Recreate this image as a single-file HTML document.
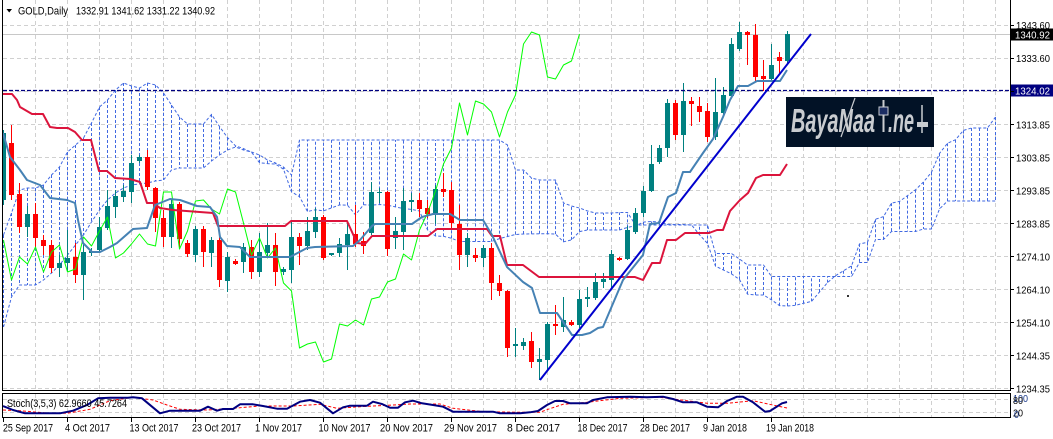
<!DOCTYPE html>
<html><head><meta charset="utf-8">
<style>
html,body{margin:0;padding:0;background:#fff;}
svg{display:block;}
text{font-family:"Liberation Sans",sans-serif;}
</style></head>
<body>
<svg id="c" width="1053" height="439" viewBox="0 0 1053 439" xmlns="http://www.w3.org/2000/svg">
<defs>
<clipPath id="mc"><rect x="3" y="0" width="1007" height="390"/></clipPath>
<clipPath id="sc"><rect x="3" y="394" width="1007" height="23"/></clipPath>
</defs>
<rect width="1053" height="439" fill="#fff"/>
<g id="grid"></g>
<g id="cloud" clip-path="url(#mc)"></g>
<line x1="3" y1="34.5" x2="1010" y2="34.5" stroke="#c8c8c8" stroke-width="1"/>
<g id="candles" clip-path="url(#mc)"></g>
<g id="ind" clip-path="url(#mc)"></g>
<line x1="3" y1="90.5" x2="1010" y2="90.5" stroke="#000080" stroke-width="1.3" stroke-dasharray="4,2"/>
<line x1="540" y1="380" x2="811" y2="34" stroke="#0000cd" stroke-width="2"/>
<rect x="847" y="295" width="2" height="2" fill="#333"/>
<g id="stoch" clip-path="url(#sc)"></g>

<!-- logo -->
<rect x="786" y="97" width="148" height="50" fill="#021226"/>
<text x="791" y="132" font-size="33" font-style="italic" font-weight="bold" fill="#c9ccd0" textLength="84" lengthAdjust="spacingAndGlyphs">BayaNaa</text>
<line x1="855" y1="98" x2="841" y2="137" stroke="#c9ccd0" stroke-width="1.2"/>
<line x1="883.5" y1="100" x2="883.5" y2="132" stroke="#c9ccd0" stroke-width="2"/>
<rect x="879" y="107" width="9" height="8" fill="#1b2d63" stroke="#c9ccd0" stroke-width="1"/>
<text x="888" y="132" font-size="33" font-style="italic" font-weight="bold" fill="#c9ccd0" textLength="26" lengthAdjust="spacingAndGlyphs">.ne</text>
<line x1="922" y1="105" x2="922" y2="133" stroke="#c9ccd0" stroke-width="1.5"/>
<rect x="917" y="122" width="11" height="5" fill="#c9ccd0"/>

<!-- borders -->
<line x1="2.5" y1="0" x2="2.5" y2="391" stroke="#000"/>
<line x1="2" y1="390.5" x2="1011" y2="390.5" stroke="#000"/>
<line x1="1010.5" y1="0" x2="1010.5" y2="391" stroke="#000"/>
<rect x="2.5" y="393.5" width="1008" height="24" fill="none" stroke="#000"/>

<!-- header -->
<polygon points="6.5,9 12,9 9.2,12.5" fill="#000"/>
<text x="18" y="14.5" font-size="11" fill="#000" textLength="50" lengthAdjust="spacingAndGlyphs">GOLD,Daily</text>
<text x="76" y="14.5" font-size="11" fill="#000" textLength="139" lengthAdjust="spacingAndGlyphs">1332.91 1341.62 1331.22 1340.92</text>

<!-- price axis -->
<g font-size="10.5" fill="#000">
<text x="1016" y="29" textLength="34" lengthAdjust="spacingAndGlyphs">1343.60</text>
<text x="1016" y="62" textLength="34" lengthAdjust="spacingAndGlyphs">1333.60</text>
<text x="1016" y="128.5" textLength="34" lengthAdjust="spacingAndGlyphs">1313.85</text>
<text x="1016" y="161.5" textLength="34" lengthAdjust="spacingAndGlyphs">1303.85</text>
<text x="1016" y="194.5" textLength="34" lengthAdjust="spacingAndGlyphs">1293.85</text>
<text x="1016" y="227.5" textLength="34" lengthAdjust="spacingAndGlyphs">1283.85</text>
<text x="1016" y="260.5" textLength="34" lengthAdjust="spacingAndGlyphs">1274.10</text>
<text x="1016" y="293.5" textLength="34" lengthAdjust="spacingAndGlyphs">1264.10</text>
<text x="1016" y="326.5" textLength="34" lengthAdjust="spacingAndGlyphs">1254.10</text>
<text x="1016" y="359.5" textLength="34" lengthAdjust="spacingAndGlyphs">1244.35</text>
<text x="1016" y="392.5" textLength="34" lengthAdjust="spacingAndGlyphs">1234.35</text>
</g>
<rect x="1011" y="28.5" width="42" height="12" fill="#000"/>
<text x="1015" y="38.5" font-size="10.5" fill="#fff" textLength="35" lengthAdjust="spacingAndGlyphs">1340.92</text>
<rect x="1011" y="84.5" width="42" height="12" fill="#000080"/>
<text x="1015" y="94.5" font-size="10.5" fill="#fff" textLength="35" lengthAdjust="spacingAndGlyphs">1324.02</text>
<g id="pticks" stroke="#000"></g>

<!-- stochastic labels -->
<text x="7" y="407" font-size="11" fill="#000" textLength="120" lengthAdjust="spacingAndGlyphs">Stoch(3,5,3) 62.9660 45.7264</text>
<text x="1013" y="402" font-size="10" fill="#1a3a8a" textLength="15" lengthAdjust="spacingAndGlyphs">100</text>
<text x="1013" y="404" font-size="10" fill="#000" textLength="10" lengthAdjust="spacingAndGlyphs">80</text>
<text x="1013" y="416.5" font-size="10" fill="#000" textLength="10" lengthAdjust="spacingAndGlyphs">20</text>
<text x="1014" y="418" font-size="10" fill="#1a3a8a" textLength="5" lengthAdjust="spacingAndGlyphs">0</text>

<!-- date axis -->
<g font-size="11" fill="#000">
<text x="3" y="431.5" textLength="50" lengthAdjust="spacingAndGlyphs">25 Sep 2017</text>
<text x="65" y="431.5" textLength="45" lengthAdjust="spacingAndGlyphs">4 Oct 2017</text>
<text x="129.5" y="431.5" textLength="49" lengthAdjust="spacingAndGlyphs">13 Oct 2017</text>
<text x="192" y="431.5" textLength="49" lengthAdjust="spacingAndGlyphs">23 Oct 2017</text>
<text x="255" y="431.5" textLength="47" lengthAdjust="spacingAndGlyphs">1 Nov 2017</text>
<text x="318.5" y="431.5" textLength="52" lengthAdjust="spacingAndGlyphs">10 Nov 2017</text>
<text x="380" y="431.5" textLength="53" lengthAdjust="spacingAndGlyphs">20 Nov 2017</text>
<text x="444" y="431.5" textLength="53" lengthAdjust="spacingAndGlyphs">29 Nov 2017</text>
<text x="507" y="431.5" textLength="53" lengthAdjust="spacingAndGlyphs">8 Dec 2017</text>
<text x="577.5" y="431.5" textLength="50" lengthAdjust="spacingAndGlyphs">18 Dec 2017</text>
<text x="640" y="431.5" textLength="50" lengthAdjust="spacingAndGlyphs">28 Dec 2017</text>
<text x="703" y="431.5" textLength="44" lengthAdjust="spacingAndGlyphs">9 Jan 2018</text>
<text x="766" y="431.5" textLength="48" lengthAdjust="spacingAndGlyphs">19 Jan 2018</text>
</g>
<g stroke="#000">
<line x1="3.5" y1="418" x2="3.5" y2="422"/>
<line x1="67.5" y1="418" x2="67.5" y2="422"/>
<line x1="131.5" y1="418" x2="131.5" y2="422"/>
<line x1="195.5" y1="418" x2="195.5" y2="422"/>
<line x1="259.5" y1="418" x2="259.5" y2="422"/>
<line x1="323.5" y1="418" x2="323.5" y2="422"/>
<line x1="387.5" y1="418" x2="387.5" y2="422"/>
<line x1="451.5" y1="418" x2="451.5" y2="422"/>
<line x1="515.5" y1="418" x2="515.5" y2="422"/>
<line x1="579.5" y1="418" x2="579.5" y2="422"/>
<line x1="643.5" y1="418" x2="643.5" y2="422"/>
<line x1="707.5" y1="418" x2="707.5" y2="422"/>
<line x1="771.5" y1="418" x2="771.5" y2="422"/>
</g>
</svg>
<script>
(function(){
const NS='http://www.w3.org/2000/svg';
function el(p,tag,a){const e=document.createElementNS(NS,tag);for(const k in a)e.setAttribute(k,a[k]);p.appendChild(e);return e;}
const G=id=>document.getElementById(id);
const X=k=>3.5+8*k;

// grid
const g=G('grid');
const gs={stroke:'#d0d0d0','stroke-width':1,'stroke-dasharray':'4,3'};
const pt=G('pticks');
for(let i=0;i<12;i++){const y=Math.floor(25+33.03*i)+0.5;
 el(g,'line',Object.assign({x1:3,y1:y,x2:1010,y2:y},gs));
 el(pt,'line',{x1:1010,y1:y,x2:1014,y2:y});}
for(let m=0;m<31;m++){const x=35.5+32*m;
 el(g,'line',Object.assign({x1:x,y1:0,x2:x,y2:390},gs));
 el(g,'line',Object.assign({x1:x,y1:394,x2:x,y2:417},gs));}
[399.5,412.5].forEach(y=>el(g,'line',Object.assign({x1:3,y1:y,x2:1010,y2:y},gs)));

// OHLC in pixel coords [open, high, low, close]
const D=[
[200,130,205,133],[143,125,200,195],[194,183,233,227],[227,206,237,214],[214,203,247,238],
[240,235,255,246],[245,240,273,268],[268,255,277,263],[263,230,272,258],[257,243,283,275],
[275,243,300,252],[253,248,256,251],[250,217,252,227],[228,190,230,206],[207,190,218,196],
[197,185,202,191],[192,155,203,163],[161,155,163,157],[157,150,190,187],[188,187,232,218],
[218,210,247,237],[237,200,248,204],[204,202,247,239],[243,240,257,254],[255,226,262,229],
[229,226,267,252],[253,237,267,240],[240,232,287,280],[281,252,292,257],[261,259,265,264],
[262,243,273,247],[247,240,279,272],[272,233,277,252],[253,223,258,245],[245,233,286,272],
[272,267,275,269],[270,220,283,237],[237,233,265,246],[246,217,250,231],[232,208,238,217],
[217,215,260,258],[255,253,256,253],[253,238,257,244],[245,223,270,234],[234,205,247,244],
[241,232,254,246],[233,182,235,192],[193,188,203,192],[192,191,256,249],[238,217,249,231],
[232,188,250,201],[202,193,212,200],[200,193,217,209],[208,200,218,214],[214,185,224,189],
[189,173,197,192],[190,182,228,223],[224,205,270,255],[255,233,267,238],[255,248,262,258],
[258,245,267,248],[248,243,300,283],[283,275,296,291],[291,290,357,348],[346,328,357,344],
[346,338,350,342],[341,332,368,362],[362,348,380,359],[360,322,370,324],[324,305,335,326],
[327,297,332,320],[322,320,326,325],[325,290,328,299],[299,287,307,297],[298,273,300,282],
[282,273,288,279],[280,250,288,254],[258,257,261,260],[259,226,260,230],[232,208,234,213],
[213,186,217,191],[191,145,192,164],[162,145,164,148],[148,99,157,103],[103,100,140,135],
[135,83,152,101],[101,97,126,104],[106,97,122,112],[111,103,142,137],[137,78,140,112],
[113,87,115,95],[96,38,98,44],[49,22,51,32],[32,31,65,35],[35,24,82,77],
[76,60,91,79],[79,44,82,65],[57,52,75,61],[61,31,63,34]
];

const T=[[3,133],[10,157],[20,170],[27,180],[40,185],[50,198],[67,200],[75,203],[78,220],[83,243],[92,252],[100,252],[110,247],[117,243],[133,229],[147,228],[155,205],[170,199],[180,200],[197,206],[210,207],[217,217],[220,237],[227,246],[240,247],[250,257],[290,257],[307,248],[315,247],[353,246],[360,240],[372,226],[375,224],[412,224],[422,217],[433,214],[450,214],[460,220],[483,220],[492,235],[507,267],[523,282],[532,288],[540,313],[557,313],[572,335],[582,335],[590,333],[598,328],[603,327],[623,280],[643,255],[650,224],[659,223],[668,197],[676,193],[683,172],[690,172],[703,153],[713,139],[723,117],[730,100],[738,86],[748,86],[757,81],[780,81],[787,70]];
const K=[[2,94],[12,94],[17,100],[20,107],[32,114],[43,114],[50,127],[57,128],[68,128],[75,132],[82,140],[91,140],[99,171],[107,171],[115,178],[130,179],[140,182],[147,203],[153,203],[160,208],[173,210],[213,213],[218,226],[285,226],[291,221],[347,221],[357,243],[365,244],[372,236],[428,236],[437,229],[487,229],[492,236],[500,236],[507,265],[523,265],[539,277],[635,277],[643,280],[652,263],[660,263],[667,240],[676,240],[685,233],[709,233],[717,230],[723,230],[730,211],[740,200],[748,193],[756,178],[763,175],[780,175],[787,164]];

function ip(P,x){if(x<=P[0][0])return P[0][1];for(let i=1;i<P.length;i++){if(x<=P[i][0]){const a=P[i-1],b=P[i];return a[1]+(b[1]-a[1])*(x-a[0])/(b[0]-a[0]);}}return P[P.length-1][1];}

// cloud
const SAt=[235,213,190,188,188,185,175,167,152,145,138,123,107,100,90,83,86,88,83,85,93,105,117,124,124,124];
const SBt=[327,297,285,285,285,280,273,265,255,245,235,222,210,200,193,188,185,184,183,181,180,170,168,168,168,168,161,155,150,147,150,152,155,160,163,167,175];
for(let k=37;k<=62;k++)SBt.push(140);
SBt.push(145,170,170,178,180,180,180,203,206,208,211,213,213,213);
const SA=[],SB=[];
for(let k=0;k<=124;k++){
 SA[k]=k<26?SAt[k]:(ip(T,X(k-26))+ip(K,X(k-26)))/2;
 if(k<77)SB[k]=SBt[k];else{let h=1e9,l=-1e9;for(let j=k-77;j<=k-26;j++){h=Math.min(h,D[j][1]);l=Math.max(l,D[j][2]);}SB[k]=(h+l)/2;}
}
const cg=G('cloud');
const cs={stroke:'#4169e1','stroke-width':1,'stroke-dasharray':'3,2',fill:'none'};
for(let k=0;k<=124;k++){el(cg,'line',Object.assign({x1:X(k),y1:SA[k].toFixed(1),x2:X(k),y2:SB[k].toFixed(1)},cs));}
el(cg,'polyline',Object.assign({points:SA.map((y,k)=>X(k)+','+y.toFixed(1)).join(' ')},cs));
el(cg,'polyline',Object.assign({points:SB.map((y,k)=>X(k)+','+y.toFixed(1)).join(' ')},cs));

// candles
const kg=G('candles');
D.forEach((d,k)=>{const o=d[0],h=d[1],l=d[2],c=d[3];const x=X(k);const col=c<=o?'#008080':'#ff0000';
 el(kg,'rect',{x:x-0.5,y:h,width:1,height:Math.max(1,l-h),fill:col});
 const t=Math.min(o,c),b=Math.max(o,c);
 el(kg,'rect',{x:x-2.5,y:t,width:5,height:Math.max(1,b-t),fill:col});});

// indicator lines
const ig=G('ind');
function pl(p,P,col,w,extra){return el(p,'polyline',Object.assign({points:P.map(q=>q[0]+','+q[1]).join(' '),fill:'none',stroke:col,'stroke-width':w,'stroke-linejoin':'round'},extra||{}));}
const CH=[];for(let k=0;k<=72;k++)CH.push([X(k),D[k+26][3]]);
pl(ig,CH,'#00ff00',1);
pl(ig,K,'#dc143c',2);
pl(ig,T,'#4682b4',2);

// stochastic
const MAIN=[[3,406],[13,410],[25,413.3],[60,413.3],[73,410.7],[87,405],[98,398.3],[110,397.7],[128,397.7],[133,397.3],[142,398.3],[160,413.3],[170,410.7],[200,410.7],[208,406.7],[217,410.7],[223,409],[233,409],[240,404.3],[253,404.3],[263,406],[277,408.7],[287,408.7],[300,401.7],[310,400],[320,402.7],[333,413.3],[343,407.3],[350,405.7],[367,405.7],[373,401.7],[382,404],[390,407.7],[398,407.7],[405,402.3],[413,400.7],[422,403.3],[433,405],[443,406.7],[453,411.7],[493,411.7],[500,413.3],[520,413.3],[530,412.3],[538,411],[547,405],[555,401],[563,401],[570,403.3],[587,403.3],[593,400],[607,397.3],[630,396.7],[647,397.3],[663,396.7],[673,399],[683,402.3],[697,402.3],[707,406.7],[718,407.3],[727,401],[737,396.7],[743,396.7],[753,402.3],[765,411.7],[770,411],[782,403.3],[787,402]];
const SIG=[[3,410],[20,410.7],[50,413.3],[67,413.3],[90,409.3],[110,400.7],[133,397.3],[153,400],[167,405],[180,409.3],[207,410],[233,408.3],[260,406],[293,406],[320,404.3],[337,408.3],[360,406.7],[393,405],[410,404],[440,404],[453,408.3],[483,411.7],[520,412.3],[540,412.3],[548,409.3],[563,404.3],[587,402.3],[620,398.3],[660,397.3],[707,403.3],[727,403.3],[753,400.7],[768,404],[787,408]];
const sg=G('stoch');
pl(sg,SIG,'#ff0000',1,{'stroke-dasharray':'3,2'});
pl(sg,MAIN,'#000080',2);
})();
</script>
</body></html>
